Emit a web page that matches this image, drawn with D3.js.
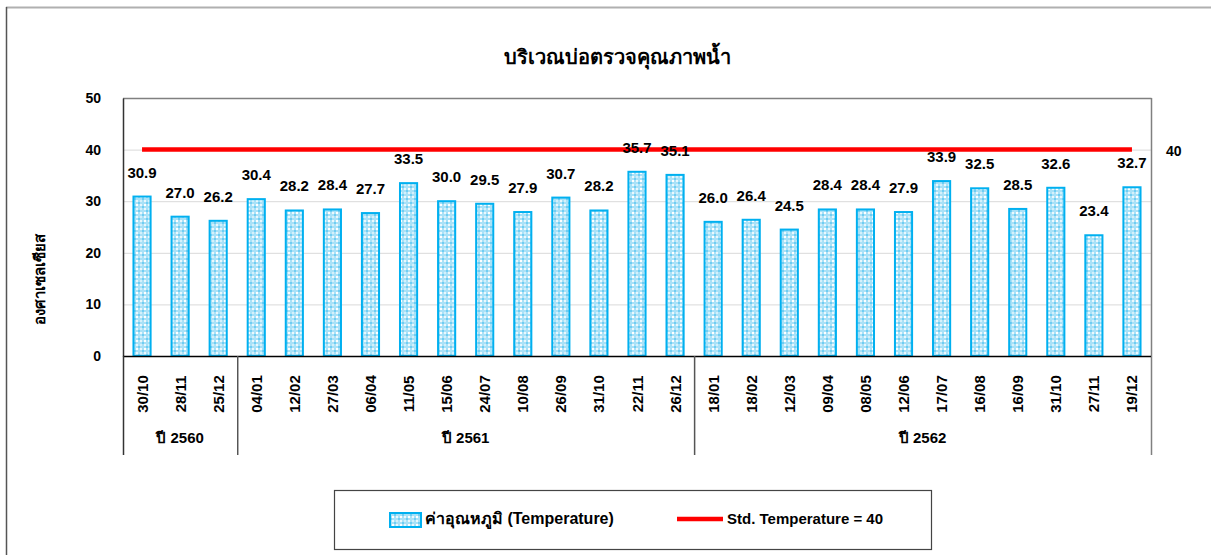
<!DOCTYPE html>
<html>
<head>
<meta charset="utf-8">
<script src="https://cdn.jsdelivr.net/npm/d3@7"></script>
<style>
body { margin: 0; background: #fff; }
text { font-family: "Liberation Sans", Arial, sans-serif; }
</style>
</head>
<body>
<svg id="chart"></svg>
<script>
var dates = ["30/10", "28/11", "25/12", "04/01", "12/02", "27/03", "06/04", "11/05", "15/06",
    "24/07", "10/08", "26/09", "31/10", "22/11", "26/12", "18/01", "18/02", "12/03", "09/04",
    "08/05", "12/06", "17/07", "16/08", "16/09", "31/10", "27/11", "19/12"];
var temps = [30.9, 27.0, 26.2, 30.4, 28.2, 28.4, 27.7, 33.5, 30.0, 29.5, 27.9, 30.7, 28.2, 35.7,
    35.1, 26.0, 26.4, 24.5, 28.4, 28.4, 27.9, 33.9, 32.5, 28.5, 32.6, 23.4, 32.7];
var years = ["ปี 2560", "ปี 2561", "ปี 2562"];
var yearCounts = [3, 12, 12];
var stdValue = 40;
var yTicks = [0, 10, 20, 30, 40, 50];

var svg = d3.select("#chart")
    .attr("width", 1211)
    .attr("height", 555);

// bar fill pattern
var defs = svg.append("defs");
var pat = defs.append("pattern")
    .attr("id", "dots")
    .attr("patternUnits", "userSpaceOnUse")
    .attr("width", 8)
    .attr("height", 8);
pat.append("rect").attr("width", 8).attr("height", 8).attr("fill", "#a9e1f7");
pat.append("rect").attr("x", 0).attr("y", 0).attr("width", 2).attr("height", 2).attr("fill", "#eaf8fd");
pat.append("rect").attr("x", 4).attr("y", 4).attr("width", 2).attr("height", 2).attr("fill", "#eaf8fd");
pat.append("rect").attr("x", 2).attr("y", 2).attr("width", 2).attr("height", 2).attr("fill", "#6fcdf2");
pat.append("rect").attr("x", 6).attr("y", 6).attr("width", 2).attr("height", 2).attr("fill", "#6fcdf2");
pat.append("rect").attr("x", 4).attr("y", 0).attr("width", 2).attr("height", 2).attr("fill", "#d3f0fb");
pat.append("rect").attr("x", 0).attr("y", 4).attr("width", 2).attr("height", 2).attr("fill", "#ffffff");

// outer frame
svg.append("line").attr("x1", 6).attr("x2", 1211).attr("y1", 7.5).attr("y2", 7.5)
    .attr("stroke", "#b0b0b0").attr("stroke-width", 2);
svg.append("line").attr("x1", 6.5).attr("x2", 6.5).attr("y1", 7).attr("y2", 555)
    .attr("stroke", "#555").attr("stroke-width", 1.5);

svg.append("text")
    .attr("x", 617).attr("y", 64)
    .attr("text-anchor", "middle")
    .attr("font-size", 20).attr("font-weight", "bold")
    .text("บริเวณบ่อตรวจคุณภาพน้ำ");

var plotLeft = 123, plotRight = 1151, plotTop = 98, plotBottom = 356;

var x = d3.scaleBand().domain(d3.range(dates.length)).range([plotLeft, plotRight])
    .paddingInner(0.55).paddingOuter(0.275);
var y = d3.scaleLinear().domain([0, 50]).range([plotBottom, plotTop]);

var g = svg.append("g");

// gridlines
g.selectAll(".grid").data(yTicks.slice(1, 5)).enter().append("line")
    .attr("x1", plotLeft).attr("x2", plotRight)
    .attr("y1", d => y(d) + 0.5).attr("y2", d => y(d) + 0.5)
    .attr("stroke", "#d9d9d9").attr("stroke-width", 1);

// plot frame top/right
g.append("line").attr("x1", plotLeft).attr("x2", plotRight + 0.5).attr("y1", plotTop + 0.5).attr("y2", plotTop + 0.5)
    .attr("stroke", "#808080").attr("stroke-width", 1.5);
g.append("line").attr("x1", plotRight + 0.5).attr("x2", plotRight + 0.5).attr("y1", plotTop).attr("y2", 455)
    .attr("stroke", "#808080").attr("stroke-width", 1.5);

// y axis
var yAxis = g.append("g")
    .attr("transform", "translate(" + plotLeft + ",0)")
    .call(d3.axisLeft(y).tickValues(yTicks).tickSize(0).tickPadding(22));
yAxis.select(".domain").attr("stroke", "#333").attr("stroke-width", 1.5);
yAxis.selectAll("text").attr("font-size", 14).attr("font-weight", "bold").attr("fill", "#000")
    .style("font-family", "Liberation Sans, Arial, sans-serif");

svg.append("text")
    .attr("transform", "translate(45,279) rotate(-90)")
    .attr("text-anchor", "middle")
    .attr("font-size", 15).attr("font-weight", "bold")
    .text("องศาเซลเซียส");

// bars
g.selectAll(".bar").data(temps).enter().append("rect")
    .attr("class", "bar")
    .attr("x", (d, i) => x(i))
    .attr("y", d => y(d))
    .attr("width", x.bandwidth())
    .attr("height", d => y(0) - y(d))
    .attr("fill", "url(#dots)")
    .attr("stroke", "#00b0f0")
    .attr("stroke-width", 2);

// standard line
var line = d3.line().x((d, i) => x(i) + x.bandwidth() / 2).y(d => y(d));
g.append("path")
    .datum(dates.map(() => stdValue))
    .attr("d", line)
    .attr("fill", "none")
    .attr("stroke", "#ff0000")
    .attr("stroke-width", 4.5);
g.append("text")
    .attr("x", 1166).attr("y", y(stdValue) + 6)
    .attr("font-size", 14).attr("font-weight", "bold")
    .text(stdValue);

// value labels (drawn over the line)
g.selectAll(".val").data(temps).enter().append("text")
    .attr("x", (d, i) => x(i) + x.bandwidth() / 2)
    .attr("y", d => y(d) - 19)
    .attr("text-anchor", "middle")
    .attr("font-size", 15).attr("font-weight", "bold")
    .text(d => d.toFixed(1));

// x axis
g.append("line").attr("x1", plotLeft).attr("x2", plotRight).attr("y1", plotBottom + 0.5).attr("y2", plotBottom + 0.5)
    .attr("stroke", "#000").attr("stroke-width", 1.5);

g.selectAll(".cat").data(dates).enter().append("text")
    .attr("transform", (d, i) => "translate(" + (x(i) + x.bandwidth() / 2 + 5.5) + ",394) rotate(-90)")
    .attr("text-anchor", "middle")
    .attr("font-size", 15).attr("font-weight", "bold")
    .text(d => d);

// year groups
var step = x.step();
var cum = 0;
var seps = [0];
yearCounts.forEach(c => { cum += c; seps.push(cum); });
g.selectAll(".sep").data(seps.slice(0, 3)).enter().append("line")
    .attr("x1", d => plotLeft + d * step + 0.5).attr("x2", d => plotLeft + d * step + 0.5)
    .attr("y1", plotBottom).attr("y2", 455)
    .attr("stroke", d => d === 0 ? "#333" : "#555").attr("stroke-width", 1.5);
g.selectAll(".year").data(years).enter().append("text")
    .attr("x", (d, i) => plotLeft + (seps[i] + yearCounts[i] / 2) * step)
    .attr("y", 443)
    .attr("text-anchor", "middle")
    .attr("font-size", 15).attr("font-weight", "bold")
    .text(d => d);

// legend
var lg = svg.append("g");
lg.append("rect").attr("x", 334.5).attr("y", 490.5).attr("width", 597).attr("height", 59)
    .attr("fill", "#fff").attr("stroke", "#444").attr("stroke-width", 1.2);
lg.append("rect").attr("x", 390).attr("y", 513).attr("width", 31).attr("height", 14)
    .attr("fill", "url(#dots)").attr("stroke", "#00b0f0").attr("stroke-width", 2);
lg.append("text").attr("x", 425).attr("y", 524)
    .attr("font-size", 16).attr("font-weight", "bold").text("ค่าอุณหภูมิ (Temperature)");
lg.append("line").attr("x1", 677).attr("x2", 723).attr("y1", 519).attr("y2", 519)
    .attr("stroke", "#ff0000").attr("stroke-width", 4.5);
lg.append("text").attr("x", 727).attr("y", 524)
    .attr("font-size", 15).attr("font-weight", "bold").text("Std. Temperature = 40");
</script>
</body>
</html>
